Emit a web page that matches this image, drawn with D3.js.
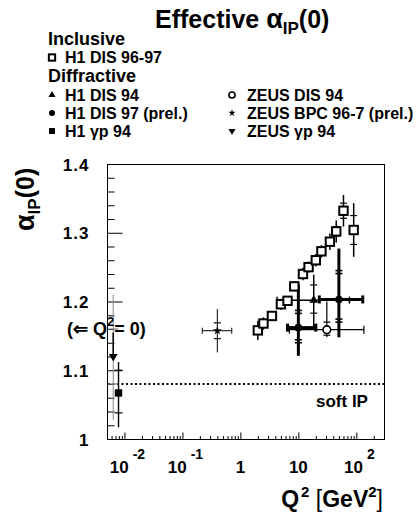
<!DOCTYPE html>
<html>
<head>
<meta charset="utf-8">
<script src="https://cdn.jsdelivr.net/npm/d3@7"></script>
<style>
body { margin: 0; background: #fff; }
text { font-family: "Liberation Sans", Arial, Helvetica, sans-serif; font-weight: bold; fill: #000; }
</style>
</head>
<body>
<div id="chart"></div>
<script>
// ---- data ----
// H1 DIS 96-97 (inclusive)
var inclQ2    = [2.0, 2.5, 3.5, 5.0, 6.5, 8.5, 12, 15, 20, 25, 35, 45, 60, 90];
var inclAlpha = [1.158, 1.168, 1.179, 1.196, 1.201, 1.222, 1.240, 1.250, 1.260, 1.273, 1.287, 1.302, 1.332, 1.304];
var inclErr   = [0.014, 0.009, 0.007, 0.008, 0.007, 0.007, 0.009, 0.008, 0.009, 0.009, 0.012, 0.016, 0.023, 0.039];
var inclStat  = [0.005, 0.004, 0.003, 0.003, 0.003, 0.003, 0.003, 0.003, 0.004, 0.004, 0.005, 0.007, 0.011, 0.021];

// diffractive points: q2, alpha, total up/down, stat up/down, q2 bin lo/hi
var h1Dis94   = [{q2: 18.4, a: 1.202, up: 0.037, dn: 0.042, sUp: 0.022, sDn: 0.019, lo: 4.3, hi: 76}];
var h1Dis97   = [{q2: 10, a: 1.162, up: 0.063, dn: 0.041, sUp: 0.025, sDn: 0.022, lo: 6.5, hi: 20},
                 {q2: 50, a: 1.203, up: 0.074, dn: 0.055, sUp: 0.042, sDn: 0.033, lo: 23, hi: 129}];
var h1Gp94    = [{q2: 0.0079, a: 1.067, up: 0.045, dn: 0.05, sUp: 0.033, sDn: 0.029}];
var zeusDis94 = [{q2: 31, a: 1.159, up: 0.041, dn: 0.011, sUp: 0.011, sDn: 0.008, lo: 7, hi: 135}];
var zeusBpc   = [{q2: 0.40, a: 1.1575, up: 0.0315, dn: 0.0315, sUp: 0.0115, sDn: 0.0115, lo: 0.22, hi: 0.71}];
var zeusGp94  = [{q2: 0.0064, a: 1.12, up: 0.09, dn: 0.092, sUp: 0.04, sDn: 0.04, inner: 0.035}];

var softPomeron = 1.08;

// axis ticks
var yTickVals   = [1, 1.1, 1.2, 1.3, 1.4];
var yTickLabels = ["1", "1.1", "1.2", "1.3", "1.4"];
var xTickVals   = [0.01, 0.1, 1, 10, 100];
var xTickBase   = ["10", "10", "1", "10", "10"];
var xTickExp    = ["-2", "-1", "", "", "2"];

// legend
var legendLeft  = [["H1 DIS 94", "triUp"], ["H1 DIS 97 (prel.)", "dot"], ["H1 \u03b3p 94", "sqFill"]];
var legendRight = [["ZEUS DIS 94", "ring"], ["ZEUS BPC 96-7 (prel.)", "star"], ["ZEUS \u03b3p 94", "triDown"]];

var width = 419, height = 512;
var L = 107, R = 384, T = 164, B = 439;

var svg = d3.select("#chart").append("svg")
	.attr("width", width)
	.attr("height", height);

svg.append("rect").attr("width", width).attr("height", height).attr("fill", "#fff");

var xs = d3.scaleLog().domain([0.005, 300]).range([L, R]);
var ys = d3.scaleLinear().domain([1, 1.4]).range([B, T]);

// frame
svg.append("rect")
	.attr("x", L + 0.5).attr("y", T + 0.5)
	.attr("width", R - L).attr("height", B - T)
	.attr("fill", "none").attr("stroke", "#000").attr("stroke-width", 1);

// y axis, ticks pointing inward
var yAx = svg.append("g")
	.attr("transform", "translate(" + (L + 0.5) + ",0)")
	.call(d3.axisLeft(ys).tickValues(yTickVals)
		.tickFormat(function (d, i) { return yTickLabels[i]; })
		.tickSizeInner(-15).tickSizeOuter(0).tickPadding(18));
yAx.attr("font-size", null).attr("font-family", null);
yAx.selectAll("text").style("font-size", "17px").style("letter-spacing", "1px").attr("dy", "0.36em");
yAx.select(".domain").remove();

var yMinor = ys.ticks(20).filter(function (v) { return yTickVals.indexOf(+v.toFixed(2)) < 0; });
svg.append("g")
	.attr("transform", "translate(" + (L + 0.5) + ",0)")
	.call(d3.axisLeft(ys).tickValues(yMinor).tickFormat("").tickSizeInner(-7).tickSizeOuter(0))
	.select(".domain").remove();

// x axis
var xAx = svg.append("g")
	.attr("transform", "translate(0," + (B + 0.5) + ")")
	.call(d3.axisBottom(xs).tickValues(xTickVals).tickFormat("").tickSizeInner(-7).tickSizeOuter(0));
xAx.select(".domain").remove();

var xMinor = xs.ticks().filter(function (v) {
	var m = v / Math.pow(10, Math.floor(Math.log10(v) + 1e-9));
	return Math.abs(m - 1) > 1e-6 && v > 0.0051 && v < 299;
});
svg.append("g")
	.attr("transform", "translate(0," + (B + 0.5) + ")")
	.call(d3.axisBottom(xs).tickValues(xMinor).tickFormat("").tickSizeInner(-3.5).tickSizeOuter(0))
	.select(".domain").remove();

xTickVals.forEach(function (v, i) {
	var t = svg.append("text")
		.attr("x", xs(v) + (xTickExp[i] ? 3 : 0))
		.attr("y", 473)
		.attr("text-anchor", "middle")
		.style("font-size", "17px");
	t.append("tspan").text(xTickBase[i]);
	if (xTickExp[i]) {
		t.append("tspan").attr("dx", 4).attr("dy", -14).style("font-size", "14px").text(xTickExp[i]);
	}
});

// axis titles
var xt = svg.append("text").attr("x", 383).attr("y", 507).attr("text-anchor", "end").style("font-size", "23px");
xt.append("tspan").text("Q");
xt.append("tspan").attr("dx", 2).attr("dy", -10).style("font-size", "15px").text("2");
xt.append("tspan").attr("dy", 10).style("font-weight", "normal").text(" [");
xt.append("tspan").text("GeV");
xt.append("tspan").attr("dy", -10).style("font-size", "15px").text("2");
xt.append("tspan").attr("dy", 10).style("font-weight", "normal").text("]");

var yt = svg.append("text").attr("transform", "translate(34,231) rotate(-90)").style("font-size", "25px");
yt.append("tspan").style("font-size", "27px").text("\u03b1");
yt.append("tspan").attr("dy", 6).style("font-size", "17px").text("IP");
yt.append("tspan").attr("dy", -6).text("(0)");

// title
var tt = svg.append("text").attr("x", 155).attr("y", 28).style("font-size", "25px");
tt.append("tspan").text("Effective ");
tt.append("tspan").style("font-size", "27px").text("\u03b1");
tt.append("tspan").attr("dy", 6).style("font-size", "17px").text("IP");
tt.append("tspan").attr("dy", -6).text("(0)");

// soft pomeron line
svg.append("line")
	.attr("x1", L + 1).attr("x2", R)
	.attr("y1", ys(softPomeron)).attr("y2", ys(softPomeron))
	.attr("stroke", "#000").attr("stroke-width", 2).attr("stroke-dasharray", "2,2.5");
svg.append("text").attr("x", 316).attr("y", 407).style("font-size", "17px").text("soft IP");

// marker helper
function marker(g, type, x, y, k) {
	k = k || 1;
	if (type === "sqOpen") {
		g.append("rect").attr("x", x - 4.2 * k).attr("y", y - 4.2 * k).attr("width", 8.4 * k).attr("height", 8.4 * k)
			.attr("fill", "#fff").attr("stroke", "#000").attr("stroke-width", 2);
	} else if (type === "sqFill") {
		g.append("rect").attr("x", x - 3.7 * k).attr("y", y - 3.7 * k).attr("width", 7.4 * k).attr("height", 7.4 * k).attr("fill", "#000");
	} else if (type === "dot") {
		g.append("circle").attr("cx", x).attr("cy", y).attr("r", 3.8 * k).attr("fill", "#000");
	} else if (type === "ring") {
		g.append("circle").attr("cx", x).attr("cy", y).attr("r", 3.8 * k).attr("fill", "#fff").attr("stroke", "#000").attr("stroke-width", 1.6);
	} else if (type === "star") {
		g.append("path").attr("d", d3.symbol(d3.symbolStar, 24 * k * k)()).attr("transform", "translate(" + x + "," + y + ")").attr("fill", "#000");
	} else if (type === "triUp" || type === "triDown") {
		g.append("path").attr("d", d3.symbol(d3.symbolTriangle, 34 * k * k)())
			.attr("transform", "translate(" + x + "," + y + ")" + (type === "triDown" ? " rotate(180)" : ""))
			.attr("fill", "#000");
	}
}

function seg(g, x1, y1, x2, y2, w, c) {
	g.append("line").attr("x1", x1).attr("y1", y1).attr("x2", x2).attr("y2", y2)
		.attr("stroke", c || "#000").attr("stroke-width", w);
}

// error bars: vertical total, stat ticks, horizontal bin with end caps
function errBar(g, d, st) {
	var x = xs(d.q2), y = ys(d.a), c = st.color || "#000";
	seg(g, x, ys(d.a + d.up), x, ys(d.a - d.dn), st.w, c);
	if (d.sUp) {
		[ys(d.a + d.sUp), ys(d.a - d.sDn)].forEach(function (ty) {
			seg(g, x - st.tw, ty, x + st.tw, ty, st.dbl ? 1.6 : 1.2, c);
			if (st.dbl) seg(g, x - st.tw, ty + (ty < y ? 3 : -3), x + st.tw, ty + (ty < y ? 3 : -3), 1.6, c);
		});
	}
	if (d.lo) {
		seg(g, xs(d.lo), y, xs(d.hi), y, st.w, c);
		seg(g, xs(d.lo), y - st.cap, xs(d.lo), y + st.cap, st.w, c);
		seg(g, xs(d.hi), y - st.cap, xs(d.hi), y + st.cap, st.w, c);
	}
}

var plot = svg.append("g");

// near Q2 = 0
zeusGp94.forEach(function (d) {
	errBar(plot, d, { w: 1, tw: 5, cap: 3, color: "#888" });
	seg(plot, xs(d.q2), ys(d.a + d.inner), xs(d.q2), ys(d.a), 1.5, "#000");
	marker(plot, "triDown", xs(d.q2), ys(d.a));
});
h1Gp94.forEach(function (d) {
	errBar(plot, d, { w: 1.4, tw: 4, cap: 3 });
	marker(plot, "sqFill", xs(d.q2), ys(d.a));
});

zeusBpc.forEach(function (d) {
	errBar(plot, d, { w: 1, tw: 3.5, cap: 3 });
	marker(plot, "star", xs(d.q2), ys(d.a));
});
zeusDis94.forEach(function (d) {
	errBar(plot, d, { w: 1.2, tw: 3.5, cap: 4 });
});
h1Dis94.forEach(function (d) {
	errBar(plot, d, { w: 1.5, tw: 3.5, cap: 3.5 });
});
h1Dis97.forEach(function (d) {
	errBar(plot, d, { w: 3, tw: 3.5, cap: 4, dbl: true });
});

inclQ2.forEach(function (q, i) {
	errBar(plot, { q2: q, a: inclAlpha[i], up: inclErr[i], dn: inclErr[i], sUp: inclStat[i], sDn: inclStat[i] }, { w: 1.5, tw: 3.5 });
});

zeusDis94.forEach(function (d) { marker(plot, "ring", xs(d.q2), ys(d.a)); });
h1Dis94.forEach(function (d) { marker(plot, "triUp", xs(d.q2), ys(d.a)); });
h1Dis97.forEach(function (d) { marker(plot, "dot", xs(d.q2), ys(d.a)); });
inclQ2.forEach(function (q, i) { marker(plot, "sqOpen", xs(q), ys(inclAlpha[i])); });

// Q2 = 0 note
var qn = svg.append("text").attr("x", 67).attr("y", 335).style("font-size", "18px");
qn.append("tspan").text("(\u21d0 Q");
qn.append("tspan").attr("dy", -9).style("font-size", "13px").text("2");
qn.append("tspan").attr("dy", 9).text("= 0)");

// legend
var leg = svg.append("g");
leg.append("text").attr("x", 48).attr("y", 45).style("font-size", "18px").text("Inclusive");
marker(leg, "sqOpen", 52, 57.5, 0.75);
leg.append("text").attr("x", 65).attr("y", 63).style("font-size", "16px").text("H1 DIS 96-97");
leg.append("text").attr("x", 48).attr("y", 81.5).style("font-size", "18px").text("Diffractive");

var rowY = [100.5, 118.5, 136.5];
legendLeft.forEach(function (e, i) {
	marker(leg, e[1], 52, rowY[i] - 5.5, 0.8);
	leg.append("text").attr("x", 65).attr("y", rowY[i]).style("font-size", "16px").text(e[0]);
});
legendRight.forEach(function (e, i) {
	marker(leg, e[1], 232, rowY[i] - 5.5, 0.8);
	leg.append("text").attr("x", 247).attr("y", rowY[i]).style("font-size", "16px").text(e[0]);
});
</script>
</body>
</html>
